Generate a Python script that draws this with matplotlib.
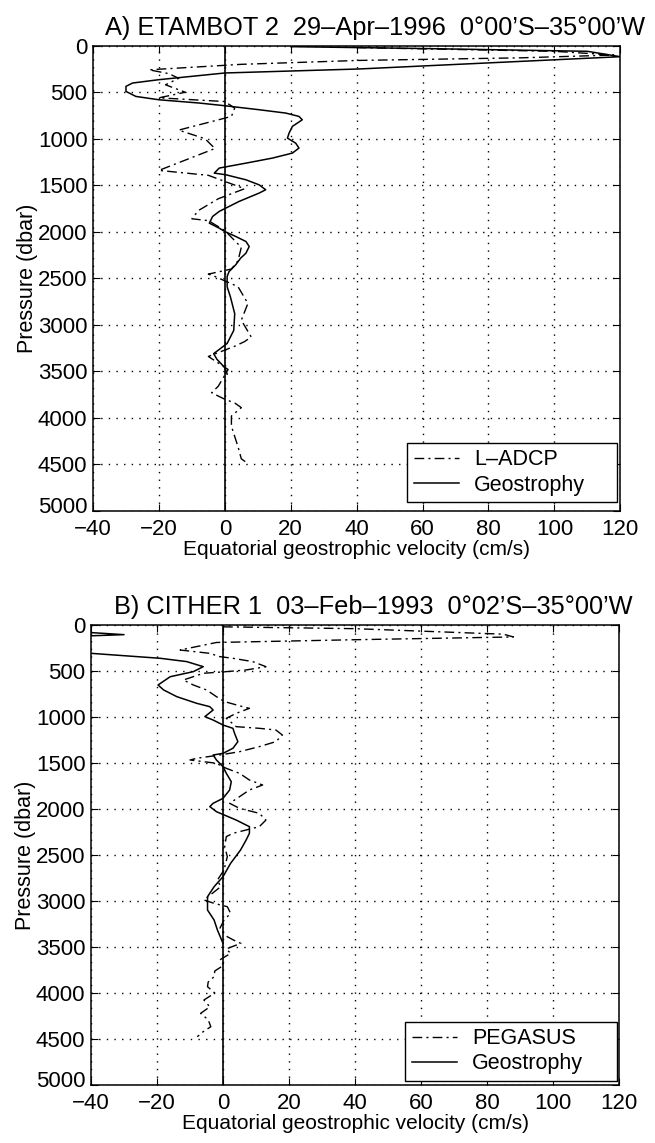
import matplotlib
matplotlib.use("Agg")
import matplotlib.pyplot as plt
from matplotlib.transforms import ScaledTranslation

# ---------------- Panel A data ----------------
a_geo_p = [10, 30, 60, 118, 250, 293, 365, 401, 437, 491, 545, 581, 616, 645, 688, 724,
           760, 796, 867, 939, 993, 1047, 1100, 1154, 1208, 1262, 1315, 1369, 1387, 1441,
           1495, 1548, 1584, 1674, 1781, 1835, 1907, 1961, 1997, 2050, 2104, 2158, 2230,
           2283, 2355, 2427, 2480, 2590, 2700, 2880, 3060, 3200, 3310, 3370, 3460, 3530]
a_geo_v = [20, 60, 110, 120, 40.7, 0, -20, -28, -30, -30, -27, -20, -7.8, 0, 10.4, 18.5,
           22.5, 23.5, 20.5, 19.5, 19, 21.5, 22.5, 20.5, 14.4, 6.4, -1.7, -3.2, 0.3, 6.4,
           10.4, 12.4, 10.4, 4.3, -1.7, -3.7, -4.7, -1.7, 0, 3.3, 6.4, 7.4, 6.4,
           4.8, 3.3, 1.3, 0.7, 0.7, 1.7, 3.0, 2.7, 0.7, -3.4, -2.4, 0, 0.7]

a_adcp_p = [20, 60, 100, 130, 158, 200, 259, 300, 350, 420, 500, 560, 600, 670, 760,
            907, 1000, 1105, 1340, 1393, 1537, 1645, 1771, 1860, 1880, 1987, 2167, 2311,
            2400, 2455, 2480, 2590, 2770, 2950, 3130, 3180, 3230, 3340, 3410, 3480, 3660,
            3730, 3800, 3840, 3890, 3980, 4090, 4200, 4310, 4440, 4490]
a_adcp_v = [40, 100, 118, 90, 40.7, 5, -23, -17, -14, -18, -12, -20, 0, 3, 2,
            -14, -6, -3, -20, -5, 6, -2, -8, -10, -5, 0, 5, 4,
            2, -5, -3, 4, 7, 5, 8, 6, 3, -5, -2, 1, -2,
            -4, 0, 3, 5, 2, 2, 3, 4, 5, 7]

# ---------------- Panel B data ----------------
b_geo_p = [60, 105, 130, 308, 362, 398, 453, 507, 562, 652, 706, 779, 851, 888, 924, 996,
           1033, 1087, 1123, 1178, 1268, 1340, 1395, 1413, 1467, 1540, 1612, 1703, 1793,
           1884, 1938, 1974, 2029, 2120, 2192, 2264, 2337, 2446, 2590, 2735, 2844, 2953,
           3098, 3207, 3315, 3460]
b_geo_v = [-50, -30, -50, -40, -19, -11, -6, -9, -16, -19.7, -18, -14, -8, -4, -3, -5.5,
           -3, 0, 3, 3.5, 4.5, 3, 0, -3, -2, 0, 1, 2.5, 2,
           0, -3, -4, -2, 4, 8, 8, 7, 5.3, 2.3, 0, -2.7, -4.7,
           -4.7, -2.7, -1.7, 0]

b_peg_p = [20, 40, 100, 130, 160, 190, 272, 308, 344, 362, 398, 453, 489, 507, 525, 598,
           652, 706, 779, 833, 888, 906, 960, 1014, 1105, 1123, 1141, 1196, 1268, 1322,
           1377, 1413, 1449, 1467, 1503, 1558, 1612, 1685, 1739, 1793, 1866, 1938, 1993,
           2047, 2120, 2192, 2228, 2264, 2300, 2409, 2518, 2663, 2772, 2844, 2989, 3025,
           3062, 3134, 3207, 3300, 3388, 3430, 3460, 3520, 3569, 3640, 3696, 3760, 3822,
           3880, 3931, 4000, 4076, 4150, 4221, 4290, 4366, 4420, 4475]
b_peg_v = [0, 40, 85, 88, 40, -2, -13, -4, -1, 3, 9, 13, 7, 1, -6, -12,
           -9, -5, -2, 0.5, 6, 8, 4, 1, 4, 11, 16, 18, 16, 11,
           5, -1, -8, -10, -2, 1, 5, 8, 12, 8, 5, 2, 5,
           11, 13, 11, 7, 3, 1, 0.5, 1.3, 0.3, -1.7, -0.7, -5.8, -2.7,
           1.3, 2.3, 0.3, -1.0, 1.3, 3.5, 5.4, 1.0, 2.3, -1.0, 0.3, -2.5, -2.7,
           -4.5, -4.7, -2.5, -5.8, -4.0, -6.8, -4.5, -3.7, -6.0, -7.8]

xticks = [-40, -20, 0, 20, 40, 60, 80, 100, 120]
xticklabels = ['\u221240', '\u221220', '0', '20', '40', '60', '80', '100', '120']
yticks = [0, 500, 1000, 1500, 2000, 2500, 3000, 3500, 4000, 4500, 5000]

plt.rcParams['font.family'] = ['Liberation Sans', 'DejaVu Sans']
plt.rcParams['font.size'] = 15

fig = plt.figure(figsize=(6.55, 11.43), dpi=100)
axA = fig.add_axes([0.142, 0.553, 0.805, 0.407])
axB = fig.add_axes([0.139, 0.0507, 0.806, 0.4025])

panels = [
    (axA, a_adcp_v, a_adcp_p, a_geo_v, a_geo_p, 'L\u2013ADCP',
     'A) ETAMBOT 2  29\u2013Apr\u20131996  0\u00b000\u2019S\u201335\u00b000\u2019W',
     (0.596, 0.019, 0.398, 0.11)),
    (axB, b_peg_v, b_peg_p, b_geo_v, b_geo_p, 'PEGASUS',
     'B) CITHER 1  03\u2013Feb\u20131993  0\u00b002\u2019S\u201335\u00b000\u2019W',
     (0.595, 0.009, 0.401, 0.11)),
]

for ax, dv, dp, gv, gp, lab, title, lbox in panels:
    ax.plot(dv, dp, color='black', lw=1.0, linestyle=(0, (7, 3, 1.5, 3)), label=lab)
    ax.plot(gv, gp, color='black', lw=1.1, linestyle='-', label='Geostrophy')
    ax.axvline(0, color='black', lw=1.2)
    ax.set_xlim(-40, 120)
    ax.set_ylim(5000, 0)
    ax.set_xticks(xticks)
    ax.set_xticklabels(xticklabels)
    ax.set_yticks(yticks)
    ax.grid(True, color='black', linestyle=(0, (1, 4.5)), lw=1.0)
    ax.tick_params(direction='in', length=5, labelsize=16, top=True, right=True,
                   labeltop=False, labelright=False)
    ax.tick_params(axis='x', pad=6)
    ax.tick_params(axis='y', pad=4)
    for s in ax.spines.values():
        s.set_linewidth(1.1)
    ax.set_xlabel('Equatorial geostrophic velocity (cm/s)', fontsize=15, labelpad=0)
    ax.set_ylabel('Pressure (dbar)', fontsize=15.5, labelpad=0)
    ax.set_title(title, fontsize=18.3, pad=8, x=0.535)
    leg = ax.legend(loc='lower left', bbox_to_anchor=lbox, mode='expand',
                    frameon=True, fancybox=False, edgecolor='black',
                    fontsize=15.5, handlelength=2.1, borderaxespad=0.0, borderpad=0.3,
                    labelspacing=0.2, handletextpad=0.7, framealpha=1)
    leg.get_frame().set_linewidth(1.0)
    fig.canvas.draw()
    ylabs = ax.get_yticklabels()
    ylabs[-1].set_transform(ylabs[-1].get_transform() +
                            ScaledTranslation(0, 4 / 72, fig.dpi_scale_trans))

fig.savefig('out.png', dpi=100)
